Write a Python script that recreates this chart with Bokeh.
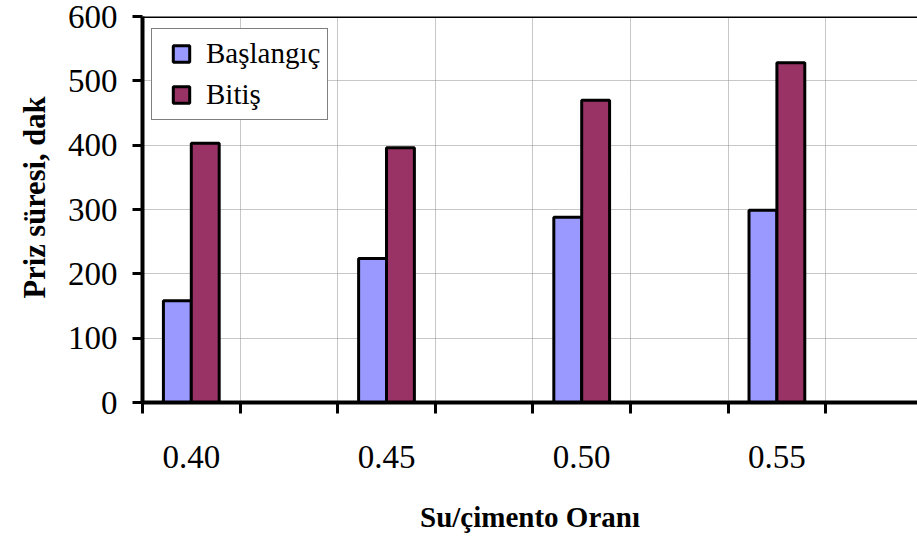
from bokeh.plotting import figure
from bokeh.models import (ColumnDataSource, FixedTicker, Span, Legend, LegendItem,
                          Range1d, Title)
from bokeh.transform import dodge
from bokeh.embed import file_html
from bokeh.resources import INLINE

# Water/cement ratio and setting times (minutes)
ratios = [0.40, 0.45, 0.50, 0.55]
ratio_labels = ["0.40", "0.45", "0.50", "0.55"]
baslangic = [158, 224, 288, 299]   # initial set
bitis = [403, 396, 470, 528]       # final set
y_ticks = [0, 100, 200, 300, 400, 500, 600]

series_names = ["Başlangıç", "Bitiş"]
series_colors = ["#9999FF", "#993366"]

FONT = "Liberation Serif"

# category slots on the ratio axis: one filled slot, one empty slot
step = 0.025
bar_w = step * 2 / 7
x_start = ratios[0] - step / 2
slot_edges = [x_start + k * step for k in range(8)]

src = ColumnDataSource(dict(ratio=ratios, baslangic=baslangic, bitis=bitis))

p = figure(width=917, height=536, output_backend="svg", toolbar_location=None,
           x_range=Range1d(x_start, x_start + step * 775 / 97.6),
           y_range=Range1d(0, 600),
           min_border_left=142, min_border_right=0,
           min_border_top=16, min_border_bottom=134,
           background_fill_color="white", border_fill_color="white")
p.outline_line_color = None

# grid
p.xaxis.ticker = FixedTicker(ticks=ratios, minor_ticks=slot_edges)
p.xaxis.major_label_overrides = {r: s for r, s in zip(ratios, ratio_labels)}
p.yaxis.ticker = FixedTicker(ticks=y_ticks)
p.xgrid.grid_line_color = None
p.xgrid.minor_grid_line_color = "#8f8f8f"
p.xgrid.minor_grid_line_dash = "1 1"
p.xgrid.minor_grid_line_width = 1
p.ygrid.grid_line_color = "#8f8f8f"
p.ygrid.grid_line_dash = "1 1"
p.ygrid.grid_line_width = 1

# bars
p.vbar(x=dodge("ratio", -bar_w / 2, range=p.x_range), top="baslangic", width=bar_w,
       source=src, fill_color=series_colors[0], line_color="black", line_width=3)
p.vbar(x=dodge("ratio", bar_w / 2, range=p.x_range), top="bitis", width=bar_w,
       source=src, fill_color=series_colors[1], line_color="black", line_width=3)

# top border of the plot area
p.add_layout(Span(location=600, dimension="width", line_color="black", line_width=3))

# x axis
xa = p.xaxis[0]
xa.axis_line_width = 4
xa.axis_line_color = "black"
xa.major_tick_out = 0
xa.major_tick_in = 0
xa.minor_tick_out = 11
xa.minor_tick_in = 0
xa.minor_tick_line_width = 3
xa.minor_tick_line_color = "black"
xa.major_label_standoff = 32
xa.major_label_text_font = FONT
xa.major_label_text_font_size = "33px"
xa.major_label_text_color = "black"
xa.axis_label = "Su/çimento Oranı"
xa.axis_label_text_font = FONT
xa.axis_label_text_font_style = "bold"
xa.axis_label_text_font_size = "29px"
xa.axis_label_text_color = "black"
xa.axis_label_standoff = 30

# y axis
ya = p.yaxis[0]
ya.axis_line_width = 4
ya.axis_line_color = "black"
ya.major_tick_out = 10
ya.major_tick_in = 0
ya.major_tick_line_width = 3
ya.major_tick_line_color = "black"
ya.minor_tick_out = 0
ya.minor_tick_in = 0
ya.major_label_standoff = 15
ya.major_label_text_font = FONT
ya.major_label_text_font_size = "33px"
ya.major_label_text_color = "black"

# y axis title, placed along the left side a little above the frame centre
p.add_layout(Title(text="Priz süresi, dak", align="left", offset=104, standoff=25,
                   text_font=FONT, text_font_style="bold", text_font_size="30.5px",
                   text_color="black"), "left")

# legend swatches
nan = float("nan")
swatches = [p.scatter(x=[nan], y=[nan], marker="square", fill_color=c, line_color="black",
                      line_width=3) for c in series_colors]
legend = Legend(items=[LegendItem(label=n, renderers=[r]) for n, r in zip(series_names, swatches)],
                location=(9, 282), padding=4, spacing=0, margin=0,
                glyph_width=50, glyph_height=41, label_standoff=0, label_width=117,
                label_text_font=FONT, label_text_font_size="29px", label_text_color="black",
                border_line_color="black", border_line_width=1.5,
                background_fill_color="white", background_fill_alpha=1)
p.add_layout(legend)

open("out.html", "w").write(file_html(p, INLINE))
